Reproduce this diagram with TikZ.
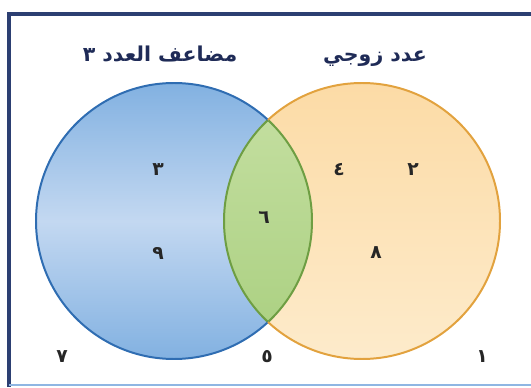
\documentclass[tikz,border=0pt]{standalone}
\usepackage{fontspec}
\newfontfamily\arabicfont[Script=Arabic]{DejaVu Sans}
\TeXXeTstate=1

\definecolor{framenavy}{HTML}{2C3F72}
\definecolor{framelight}{HTML}{8FB6E3}
\definecolor{blueedge}{HTML}{2F6DB2}
\definecolor{bluedark}{HTML}{82B1E1}
\definecolor{bluelight}{HTML}{C3D8F1}
\definecolor{orangeedge}{HTML}{E2A23E}
\definecolor{orangedark}{HTML}{FCDBA6}
\definecolor{orangelight}{HTML}{FDEBCB}
\definecolor{greenedge}{HTML}{6E9E43}
\definecolor{greendark}{HTML}{A9CF7F}
\definecolor{greenlight}{HTML}{C6E0A3}
\definecolor{labelnavy}{HTML}{1F2B57}

\begin{document}
\begin{tikzpicture}[
    x=0.03cm, y=0.03cm,
    setname/.style={font=\arabicfont\bfseries\fontsize{17.5}{20}\selectfont,
                    text=labelnavy, inner sep=1pt, anchor=base},
    member/.style={font=\arabicfont\bfseries\fontsize{16}{18}\selectfont,
                   text=black!85, inner sep=1pt},
    frameline/.style={draw=framenavy, line width=3.2pt},
    setedge/.style={line width=1.7pt}
]
    \useasboundingbox (0,0) rectangle (531,387);

    % frame
    \draw[frameline] (9,0) -- (9,373) -- (531,373);
    \draw[draw=framelight, line width=1.4pt] (9,2) -- (531,2);

    % the two sets
    \coordinate (cthree) at (174,166);
    \coordinate (ceven) at (362,166);
    \shade[top color=bluedark, bottom color=bluedark, middle color=bluelight]
        (cthree) circle (138);
    \shade[top color=orangedark, bottom color=orangelight]
        (ceven) circle (138);
    \begin{scope}
        \clip (cthree) circle (138);
        \shade[top color=greenlight, bottom color=greendark]
            (ceven) circle (138);
        \draw[greenedge, setedge] (ceven) circle (138);
    \end{scope}
    \begin{scope}
        \clip (ceven) circle (138);
        \draw[greenedge, setedge] (cthree) circle (138);
    \end{scope}
    \begin{scope}[even odd rule]
        \clip (0,0) rectangle (531,387) (ceven) circle (138);
        \draw[blueedge, setedge] (cthree) circle (138);
    \end{scope}
    \begin{scope}[even odd rule]
        \clip (0,0) rectangle (531,387) (cthree) circle (138);
        \draw[orangeedge, setedge] (ceven) circle (138);
    \end{scope}

    % set names
    \node[setname] (multthree) at (160,325) {\beginR مضاعف العدد ٣\endR};
    \node[setname] (evennum) at (375,325) {\beginR عدد زوجي\endR};

    % members
    \node[member] (n3) at (158,217) {٣};
    \node[member] (n9) at (158,134) {٩};
    \node[member] (n6) at (264,169) {٦};
    \node[member] (n4) at (339,217) {٤};
    \node[member] (n2) at (413,217) {٢};
    \node[member] (n8) at (376,134) {٨};
    \node[member] (n7) at (62,30) {٧};
    \node[member] (n5) at (267,30) {٥};
    \node[member] (n1) at (482,30) {١};
\end{tikzpicture}
\end{document}
